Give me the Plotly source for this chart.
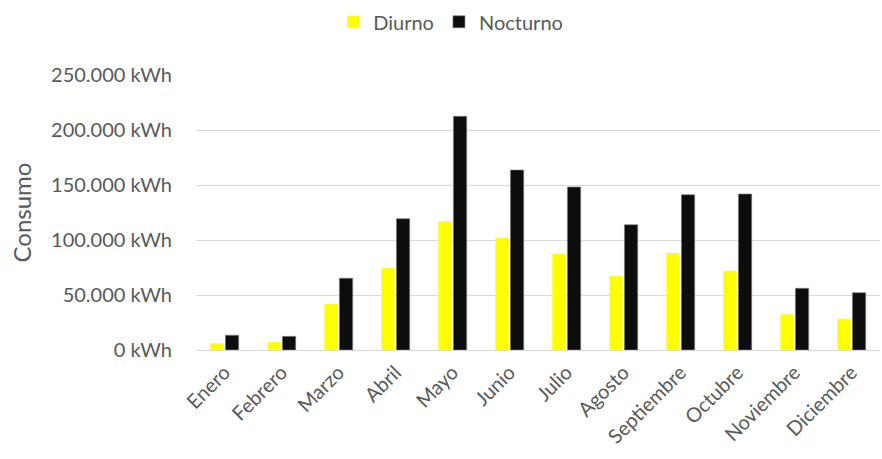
import plotly.graph_objects as go

months = ["Enero", "Febrero", "Marzo", "Abril", "Mayo", "Junio", "Julio",
          "Agosto", "Septiembre", "Octubre", "Noviembre", "Diciembre"]
diurno = [6100, 7300, 41800, 74500, 117000, 101800, 87600, 67300, 88200, 72100, 32400, 28500]
nocturno = [13400, 12400, 65200, 119400, 212400, 163600, 148200, 113900, 141200, 141800, 56100, 52100]
y_ticks = [0, 50000, 100000, 150000, 200000, 250000]
y_tick_text = ["0 kWh", "50.000 kWh", "100.000 kWh", "150.000 kWh", "200.000 kWh", "250.000 kWh"]

FONT = "Lato, Carlito, Calibri, sans-serif"
GREY = "#595959"

fig = go.Figure()
fig.add_trace(go.Bar(x=months, y=diurno, name="Diurno",
                     marker=dict(color="#FFFF00", line=dict(width=0))))
fig.add_trace(go.Bar(x=months, y=nocturno, name="Nocturno",
                     marker=dict(color="#0D0D0D", line=dict(color="#7f7f7f", width=0.6))))

fig.update_layout(
    width=882, height=459,
    margin=dict(l=196, r=2, t=75, b=109),
    paper_bgcolor="white", plot_bgcolor="white",
    barmode="group", bargap=0.47, bargroupgap=0.12,
    font=dict(family=FONT, color=GREY, size=17),
    showlegend=True,
    legend=dict(orientation="h", x=0.511, xanchor="center", xref="container",
                y=0.995, yanchor="top", yref="container",
                font=dict(size=20, color=GREY),
                itemwidth=30, traceorder="normal"),
    xaxis=dict(tickangle=-45, tickfont=dict(size=20, color=GREY),
               showgrid=False, showline=False, ticks="", ticklabelstandoff=6),
    yaxis=dict(range=[0, 250000], tickvals=y_ticks, ticktext=y_tick_text,
               tickfont=dict(size=20, color=GREY), showgrid=True, gridcolor="#d9d9d9",
               gridwidth=1, zeroline=True, zerolinecolor="#d9d9d9", zerolinewidth=1,
               showline=False, ticks="", ticklabelstandoff=23,
               title=dict(text="Consumo", font=dict(size=24, color=GREY), standoff=12)),
)

fig.write_html("out.html")
